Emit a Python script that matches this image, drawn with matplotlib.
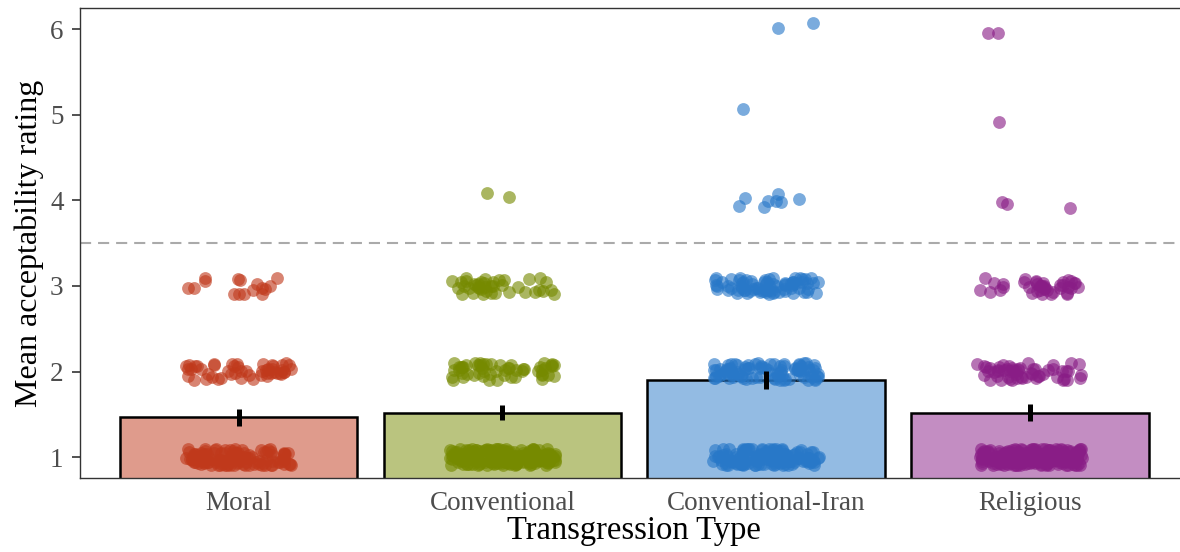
import numpy as np
import matplotlib.pyplot as plt

plt.rcParams['font.family'] = ['Liberation Serif', 'DejaVu Serif']
plt.rcParams['lines.scale_dashes'] = False

# categories and colours
categories = ['Moral', 'Conventional', 'Conventional-Iran', 'Religious']
dot_colors = ['#C0391B', '#768A00', '#2878C8', '#891D86']

# rating levels and how many participants sit at each level
levels = [1, 2, 3, 4, 5, 6]
counts_moral = [110, 50, 16, 0, 0, 0]
counts_conv = [174, 55, 40, 2, 0, 0]
counts_iran = [133, 90, 75, 8, 1, 2]
counts_relig = [203, 55, 40, 3, 1, 2]
all_counts = [counts_moral, counts_conv, counts_iran, counts_relig]

threshold = 3.5


def jitter(n, w, h, seed):
    # deterministic hash jitter, only for placing the dots
    i = np.arange(1, n + 1) + seed * 1000
    jx = (np.sin(i * 12.9898) * 43758.5453) % 1.0
    jy = (np.sin(i * 78.233) * 24634.6345) % 1.0
    return (jx - 0.5) * 2 * w, (jy - 0.5) * 2 * h


fig, ax = plt.subplots(figsize=(11.8, 5.52), dpi=100)
fig.subplots_adjust(left=0.068, right=1.007, top=0.985, bottom=0.134)

for k, (cat, col, cnt) in enumerate(zip(categories, dot_colors, all_counts)):
    vals = np.repeat(levels, cnt).astype(float)
    m = vals.mean()
    ci = 1.96 * vals.std(ddof=1) / np.sqrt(len(vals))
    xpos = k + 1
    ax.bar(xpos, m, width=0.9, color=col, alpha=0.5, zorder=1)
    ax.bar(xpos, m, width=0.9, facecolor='none', edgecolor='black',
           linewidth=1.8, zorder=2)
    jx, jy = jitter(len(vals), 0.2, 0.1, k)
    ax.scatter(xpos + jx, vals + jy, s=85, color=col, alpha=0.62,
               linewidths=0, zorder=3)
    ax.plot([xpos, xpos], [m - ci, m + ci], color='black', linewidth=3.6,
            solid_capstyle='butt', zorder=4)

ax.axhline(threshold, color='#AAAAAA', linewidth=1.5, dashes=(8, 5), zorder=0)

ax.set_xlim(0.4, 4.6)
ax.set_ylim(0.755, 6.245)
ax.set_xticks(range(1, 5))
ax.set_xticklabels(categories)
ax.set_yticks([1, 2, 3, 4, 5, 6])
ax.tick_params(axis='x', length=0, pad=9, labelsize=19.5, labelcolor='#4D4D4D')
ax.tick_params(axis='y', length=6, width=1.2, color='#333333', pad=6,
               labelsize=19.5, labelcolor='#4D4D4D')
for sp in ax.spines.values():
    sp.set_color('#333333')
    sp.set_linewidth(1.0)

ax.set_xlabel('Transgression Type', fontsize=23.5, labelpad=0)
ax.set_ylabel('Mean acceptability rating', fontsize=23, labelpad=4)

fig.savefig('out.png', dpi=100)
